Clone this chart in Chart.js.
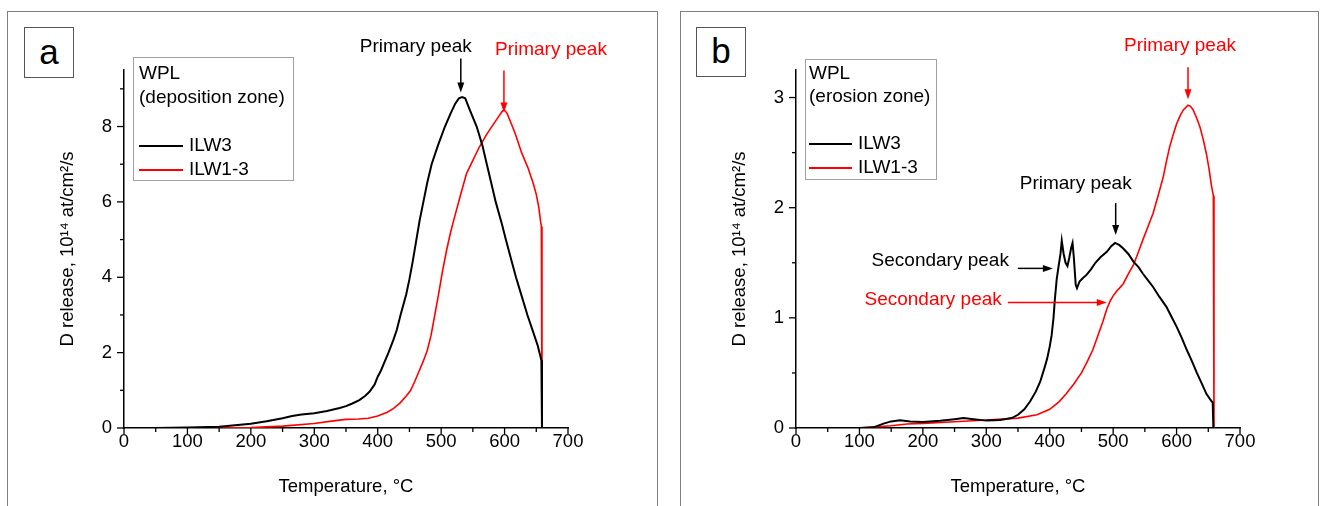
<!DOCTYPE html>
<html><head><meta charset="utf-8">
<script src="https://cdn.jsdelivr.net/npm/chart.js@4.4.1/dist/chart.umd.min.js"></script>
<style>
html,body{margin:0;padding:0;background:#fff;}
#wrap{position:relative;width:1320px;height:506px;overflow:hidden;background:#fff;font-family:"Liberation Sans",Arial,sans-serif;}
.frame{position:absolute;border:1px solid #808080;box-sizing:border-box;}
.lbl{position:absolute;border:1px solid #555;box-sizing:border-box;background:#fff;text-align:center;font-size:35px;color:#000;}
canvas{position:absolute;top:0;}
</style></head><body>
<div id="wrap">
 <div class="frame" style="left:7px;top:11px;width:651px;height:520px;"></div>
 <div class="frame" style="left:680px;top:11px;width:639px;height:520px;"></div>
 <canvas id="ca" width="660" height="506" style="left:0"></canvas>
 <canvas id="cb" width="660" height="506" style="left:660px"></canvas>
 <div class="lbl" style="left:24px;top:27px;width:50px;height:51px;line-height:47px;">a</div>
 <div class="lbl" style="left:696px;top:27px;width:50px;height:50px;line-height:46px;">b</div>
</div>
<script>
// ---------- DATA ----------
const seriesNames = ['ILW3', 'ILW1-3'];
// Panel a (deposition zone)
const A_T_ILW3 = [50,100,150,175,200,225,250,265,280,300,320,340,350,360,371,380,387,395,400,405,410,417,425,430,436,445,450,455,460,466,472,478,485,495,506,515,522,528,533,538,545,556,565,572,579,586,596,602,610,618,627,636,645,652,658,659];
const A_V_ILW3 = [0,0.01,0.035,0.07,0.11,0.18,0.26,0.32,0.36,0.39,0.45,0.53,0.58,0.65,0.74,0.85,0.96,1.15,1.36,1.52,1.72,2.0,2.35,2.6,3.0,3.55,3.95,4.4,4.9,5.5,6.0,6.5,7.0,7.5,8.0,8.35,8.6,8.75,8.78,8.75,8.45,8.0,7.5,7.0,6.5,6.0,5.4,5.0,4.5,4.0,3.5,3.0,2.55,2.2,1.8,0];
const A_T_ILW13 = [50,100,150,200,250,300,330,350,370,385,400,415,425,435,445,452,458,465,472,478,484,490,496,502,509,515,522,530,540,550,560,572,582,590,597,600,604,610,617,627,637,645,650,654,657,658,659];
const A_V_ILW13 = [0,0,0,0.01,0.05,0.12,0.19,0.23,0.24,0.26,0.32,0.42,0.52,0.66,0.85,1.0,1.22,1.5,1.78,2.05,2.45,3.0,3.55,4.15,4.75,5.2,5.65,6.15,6.75,7.1,7.45,7.8,8.05,8.25,8.42,8.43,8.35,8.1,7.8,7.3,6.9,6.5,6.2,5.85,5.45,5.35,0];
// Panel b (erosion zone)
const B_T_ILW3 = [50,100,122,138,150,164,180,200,227,250,264,280,300,322,340,350,360,369,378,385,392,396,400,403,406,408,411,414,417,419,422,425,428,431,434,436,438,441,443,447,452,458,465,472,480,490,497,503,510,516,524,532,540,547,555,563,573,584,592,600,608,616,624,632,640,647,653,657,658];
const B_V_ILW3 = [0,0,0.006,0.04,0.06,0.07,0.06,0.055,0.065,0.08,0.09,0.08,0.067,0.073,0.09,0.12,0.17,0.24,0.33,0.42,0.55,0.63,0.74,0.84,1.0,1.16,1.35,1.47,1.58,1.70,1.58,1.50,1.47,1.55,1.64,1.68,1.55,1.30,1.27,1.33,1.36,1.39,1.44,1.50,1.55,1.60,1.65,1.68,1.66,1.63,1.58,1.51,1.46,1.40,1.34,1.28,1.19,1.10,1.01,0.92,0.82,0.71,0.61,0.50,0.40,0.31,0.26,0.23,0];
const B_T_ILW13 = [50,100,150,175,200,250,300,350,380,400,415,426,438,450,459,468,476,484,490,495,500,505,510,516,524,532,540,547,555,563,571,579,584,589,595,600,606,611,618,622,626,632,637,642,647,651,655,658,659];
const B_V_ILW13 = [0,0,0.02,0.036,0.042,0.057,0.073,0.09,0.12,0.17,0.24,0.31,0.40,0.50,0.60,0.71,0.84,0.97,1.08,1.15,1.20,1.24,1.27,1.31,1.40,1.48,1.60,1.71,1.83,1.95,2.11,2.28,2.42,2.55,2.67,2.76,2.84,2.89,2.93,2.92,2.89,2.81,2.73,2.62,2.49,2.36,2.2,2.11,0];
// Tick labels
const xMajor = [0,100,200,300,400,500,600,700];
const xMinor = [50,150,250,350,450,550,650];
const yMajorA = [0,2,4,6,8];
const yMinorA = [1,3,5,7,9];
const yMajorB = [0,1,2,3];
const yMinorB = [0.5,1.5,2.5];
const legendTitleA = ['WPL', '(deposition zone)'];
const legendTitleB = ['WPL', '(erosion zone)'];
const xTitle = 'Temperature, °C';
const yTitle = 'D release, 10¹⁴ at/cm²/s';

// ---------- PLUGIN: minor ticks, legend, annotations ----------
const FONT = '"Liberation Sans", Arial, sans-serif';
Chart.defaults.font.family = FONT;
const decor = {
  id: 'decor',
  afterDraw(chart, args, o) {
    const ctx = chart.ctx, xs = chart.scales.x, ys = chart.scales.y, ca = chart.chartArea;
    ctx.save();
    ctx.strokeStyle = '#000'; ctx.lineWidth = 1.3;
    const seg = (x1,y1,x2,y2)=>{ctx.beginPath();ctx.moveTo(x1,y1);ctx.lineTo(x2,y2);ctx.stroke();};
    xMajor.forEach(v=>{const p=xs.getPixelForValue(v); seg(p,ca.bottom,p,ca.bottom+6);});
    xMinor.forEach(v=>{const p=xs.getPixelForValue(v); seg(p,ca.bottom,p,ca.bottom+4);});
    o.yMajor.forEach(v=>{const p=ys.getPixelForValue(v); seg(ca.left-7,p,ca.left,p);});
    o.yMinor.forEach(v=>{const p=ys.getPixelForValue(v); seg(ca.left-4,p,ca.left,p);});
    // legend
    const L = o.legend;
    ctx.strokeStyle = '#a0a0a0'; ctx.lineWidth = 1;
    ctx.fillStyle = '#fff';
    ctx.fillRect(L.x, L.y, L.w, L.h);
    ctx.strokeRect(L.x+0.5, L.y+0.5, L.w, L.h);
    ctx.font = '19px ' + FONT; ctx.textBaseline = 'middle'; ctx.textAlign = 'left'; ctx.fillStyle = '#000';
    L.title.forEach((t,i)=>ctx.fillText(t, L.tx, L.rows[i]));
    chart.data.datasets.forEach((ds,i)=>{
      const y = L.rows[2+i];
      ctx.strokeStyle = ds.borderColor; ctx.lineWidth = 2;
      seg(L.tx, y, L.tx+L.lineW, y);
      ctx.fillStyle = '#000';
      ctx.fillText(ds.label, L.tx+L.lineW+6, y);
    });
    // annotations
    ctx.textBaseline = 'alphabetic';
    o.notes.forEach(n=>{
      const px = xs.getPixelForValue(n.tipT), py = ys.getPixelForValue(n.tipV);
      ctx.strokeStyle = n.color; ctx.fillStyle = n.color; ctx.lineWidth = 1.5;
      const hl = 10, hw = 3.5;
      if (n.dir === 'down') {
        seg(px, py-n.len, px, py-hl+1);
        ctx.beginPath(); ctx.moveTo(px,py); ctx.lineTo(px-hw,py-hl); ctx.lineTo(px+hw,py-hl); ctx.closePath(); ctx.fill();
      } else {
        seg(px-n.len, py, px-hl+1, py);
        ctx.beginPath(); ctx.moveTo(px,py); ctx.lineTo(px-hl,py-hw); ctx.lineTo(px-hl,py+hw); ctx.closePath(); ctx.fill();
      }
      ctx.font = '19px ' + FONT; ctx.textAlign = n.align;
      ctx.fillText(n.text, px+n.tdx, py+n.tdy);
    });
    ctx.restore();
  }
};

function pts(T, V) { return T.map((t,i)=>({x:t, y:V[i]})); }

function makeChart(id, c) {
  return new Chart(document.getElementById(id), {
    type: 'line',
    data: { datasets: [
      {label: seriesNames[0], data: pts(c.T1, c.V1), borderColor:'#000000', borderWidth:2, pointRadius:0, tension:0},
      {label: seriesNames[1], data: pts(c.T2, c.V2), borderColor:'#ff0000', borderWidth:1.6, pointRadius:0, tension:0}
    ]},
    options: {
      responsive:false, animation:false, devicePixelRatio:1,
      layout:{padding:{left:0, top:70, right:c.padRight, bottom:0}},
      plugins:{legend:{display:false}, tooltip:{enabled:false},
        decor:{yMajor:c.yMajor, yMinor:c.yMinor, legend:c.legend, notes:c.notes}},
      scales:{
        x:{type:'linear', min:0, max:700,
          grid:{display:false, drawTicks:false},
          border:{display:true, color:'#000', width:1.5},
          afterBuildTicks: s=>{ s.ticks = xMajor.map(v=>({value:v})); },
          afterFit: s=>{ s.height = 78; },
          ticks:{padding:3, color:'#000', font:{size:18.5}, maxRotation:0, autoSkip:false},
          title:{display:true, text:xTitle, color:'#000', font:{size:18.5}, padding:{top:0, bottom:7.6}}},
        y:{type:'linear', min:0, max:c.yMax,
          grid:{display:false, drawTicks:false},
          border:{display:true, color:'#000', width:1.5},
          afterBuildTicks: s=>{ s.ticks = c.yMajor.map(v=>({value:v})); },
          afterFit: s=>{ s.width = c.yWidth; },
          ticks:{padding:12, color:'#000', font:{size:18.5}, autoSkip:false},
          title:{display:true, text:yTitle, color:'#000', font:{size:18.5}, padding:{top:c.titlePad, bottom:0}}}
      }
    },
    plugins:[decor]
  });
}

makeChart('ca', {
  T1:A_T_ILW3, V1:A_V_ILW3, T2:A_T_ILW13, V2:A_V_ILW13,
  yMax:9.5, yMajor:yMajorA, yMinor:yMinorA, yWidth:124, padRight:92, titlePad:57,
  legend:{x:133, y:57, w:160, h:123, tx:139, lineW:44, rows:[74,98,146,170], title:legendTitleA},
  notes:[
    {text:'Primary peak', color:'#000', tipT:531, tipV:8.9, dir:'down', len:34, tdx:-45, tdy:-41, align:'center'},
    {text:'Primary peak', color:'#ff0000', tipT:599, tipV:8.37, dir:'down', len:42, tdx:47, tdy:-58, align:'center'}
  ]
});
makeChart('cb', {
  T1:B_T_ILW3, V1:B_V_ILW3, T2:B_T_ILW13, V2:B_V_ILW13,
  yMax:3.25, yMajor:yMajorB, yMinor:yMinorB, yWidth:136, padRight:80, titlePad:69,
  legend:{x:145, y:59, w:131, h:120, tx:149, lineW:43, rows:[74,97,144,168], title:legendTitleB},
  notes:[
    {text:'Primary peak', color:'#ff0000', tipT:618, tipV:2.985, dir:'down', len:32, tdx:-8, tdy:-48, align:'center'},
    {text:'Primary peak', color:'#000', tipT:504, tipV:1.751, dir:'down', len:32, tdx:-40, tdy:-46.5, align:'center'},
    {text:'Secondary peak', color:'#000', tipT:405, tipV:1.449, dir:'right', len:35, tdx:-44, tdy:-2, align:'right'},
    {text:'Secondary peak', color:'#ff0000', tipT:490, tipV:1.139, dir:'right', len:99, tdx:-105, tdy:2.5, align:'right'}
  ]
});
</script>
</body></html>
